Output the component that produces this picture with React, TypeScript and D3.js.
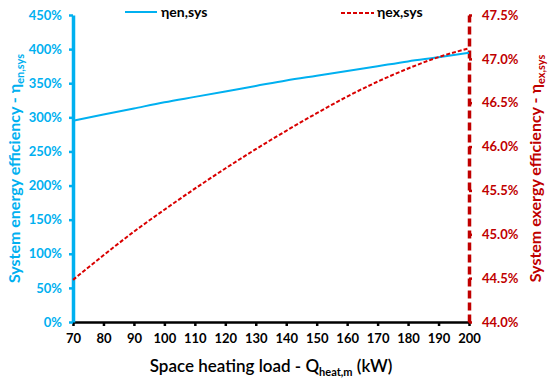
import React, { useEffect, useRef } from "react";
import * as d3 from "d3";

// space heating load (kW)
const loads = [70, 80, 90, 100, 110, 120, 130, 140, 150, 160, 170, 180, 190, 200];
// system energy efficiency (%)
const energyEff = [295, 304, 313, 322, 330, 338, 346, 354, 361, 368, 375, 382, 388, 394.5];
// system exergy efficiency (%)
const exergyEff = [44.48, 44.76, 45.03, 45.28, 45.52, 45.75, 45.97, 46.18, 46.38, 46.57, 46.74, 46.89, 47.02, 47.12];

const leftTicks = [0, 50, 100, 150, 200, 250, 300, 350, 400, 450];
const rightTicks = [44.0, 44.5, 45.0, 45.5, 46.0, 46.5, 47.0, 47.5];

const BLUE = "#00B0F0";
const DARKRED = "#C00000";
const RED = "#D90000";
const FONT = "Lato, 'Open Sans', sans-serif";

const App = () => {
  const svgRef = useRef<SVGSVGElement>(null);

  useEffect(() => {
    const width = 550;
    const height = 379;
    const margin = { top: 15, bottom: 57, left: 73, right: 81 };

    const svg = d3.select(svgRef.current).attr("width", width).attr("height", height);
    svg.selectAll("*").remove();

    const x = d3.scaleLinear().domain([70, 200]).range([margin.left, width - margin.right]);
    const yL = d3.scaleLinear().domain([0, 450]).range([height - margin.bottom, margin.top]);
    const yR = d3.scaleLinear().domain([44, 47.5]).range([height - margin.bottom, margin.top]);

    // x axis
    const gx = svg.append("g")
      .attr("transform", `translate(0,${height - margin.bottom})`)
      .call(d3.axisBottom(x).tickValues(loads).tickSize(4).tickSizeOuter(0).tickPadding(8));
    gx.select(".domain").attr("stroke", "#000").attr("stroke-width", 2.5);
    gx.selectAll(".tick line").attr("stroke", "#000").attr("stroke-width", 2.5);
    gx.selectAll(".tick text")
      .attr("fill", "#000").attr("font-family", FONT).attr("font-weight", "bold").attr("font-size", 13);

    // left axis
    const gl = svg.append("g")
      .attr("transform", `translate(${margin.left},0)`)
      .call(d3.axisLeft(yL).tickValues(leftTicks).tickFormat(d => `${d}%`).tickSize(4).tickSizeOuter(0).tickPadding(7));
    gl.select(".domain").attr("stroke", BLUE).attr("stroke-width", 3.5);
    gl.selectAll(".tick line").attr("stroke", BLUE).attr("stroke-width", 2.5);
    gl.selectAll(".tick text")
      .attr("fill", BLUE).attr("font-family", FONT).attr("font-weight", "bold").attr("font-size", 13);

    // right axis
    const gr = svg.append("g")
      .attr("transform", `translate(${width - margin.right},0)`)
      .call(d3.axisRight(yR).tickValues(rightTicks).tickFormat(d => `${(+d).toFixed(1)}%`).tickSize(3).tickSizeOuter(0).tickPadding(10));
    gr.select(".domain").attr("stroke", DARKRED).attr("stroke-width", 3.5).attr("stroke-dasharray", "8,4");
    gr.selectAll(".tick line").attr("stroke", DARKRED).attr("stroke-width", 2.5);
    gr.selectAll(".tick text")
      .attr("fill", DARKRED).attr("font-family", FONT).attr("font-weight", "bold").attr("font-size", 13);

    // lines
    const idx = d3.range(loads.length);
    const enLine = d3.line<number>().x(i => x(loads[i])).y(i => yL(energyEff[i])).curve(d3.curveMonotoneX);
    const exLine = d3.line<number>().x(i => x(loads[i])).y(i => yR(exergyEff[i])).curve(d3.curveMonotoneX);

    svg.append("path").datum(idx).attr("d", enLine)
      .attr("fill", "none").attr("stroke", BLUE).attr("stroke-width", 2);
    svg.append("path").datum(idx).attr("d", exLine)
      .attr("fill", "none").attr("stroke", RED).attr("stroke-width", 2).attr("stroke-dasharray", "4,2");

    // legend
    const leg = svg.append("g").attr("font-family", FONT).attr("font-weight", "bold").attr("font-size", 14);
    leg.append("line").attr("x1", 125).attr("x2", 157).attr("y1", 12).attr("y2", 12)
      .attr("stroke", BLUE).attr("stroke-width", 2);
    leg.append("text").attr("x", 161).attr("y", 17).text("ηen,sys");
    leg.append("line").attr("x1", 341).attr("x2", 374).attr("y1", 13).attr("y2", 13)
      .attr("stroke", RED).attr("stroke-width", 2).attr("stroke-dasharray", "4,2");
    leg.append("text").attr("x", 377).attr("y", 17).text("ηex,sys");

    // axis titles
    const xt = svg.append("text")
      .attr("x", 271).attr("y", 372).attr("text-anchor", "middle")
      .attr("font-family", FONT).attr("font-weight", 600).attr("font-size", 17).attr("fill", "#000");
    xt.append("tspan").text("Space heating load - Q");
    xt.append("tspan").attr("font-size", 11).attr("dy", 4).attr("font-weight", "bold").text("heat,m");
    xt.append("tspan").attr("dy", -4).text(" (kW)");

    const lt = svg.append("text")
      .attr("transform", `translate(20,${(height - margin.bottom + margin.top) / 2}) rotate(-90)`)
      .attr("text-anchor", "middle")
      .attr("font-family", FONT).attr("font-weight", "bold").attr("font-size", 16).attr("fill", BLUE);
    lt.append("tspan").text("System energy efficiency - η");
    lt.append("tspan").attr("font-size", 11).attr("dy", 4).text("en,sys");

    const rt = svg.append("text")
      .attr("transform", `translate(541,${(height - margin.bottom + margin.top) / 2}) rotate(-90)`)
      .attr("text-anchor", "middle")
      .attr("font-family", FONT).attr("font-weight", "bold").attr("font-size", 16).attr("fill", DARKRED);
    rt.append("tspan").text("System exergy efficiency - η");
    rt.append("tspan").attr("font-size", 11).attr("dy", 4).text("ex,sys");
  }, []);

  return <svg ref={svgRef} style={{ position: "absolute", left: 0, top: 0 }}></svg>;
};

export default App;
